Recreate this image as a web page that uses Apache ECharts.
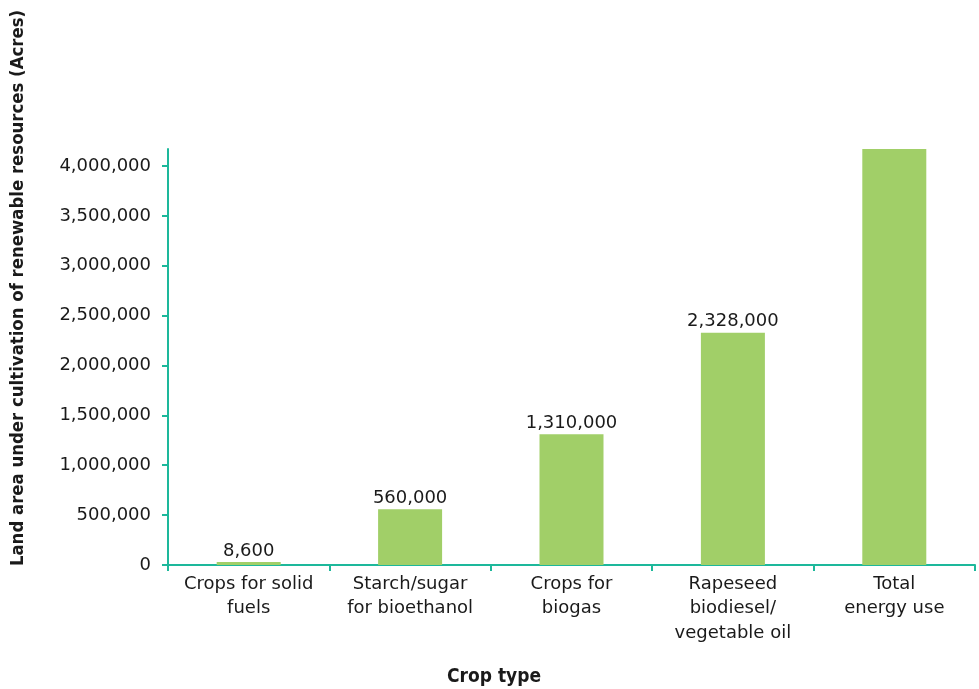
<!DOCTYPE html>
<html>
<head>
<meta charset="utf-8">
<script src="https://cdn.jsdelivr.net/npm/echarts@6/dist/echarts.min.js"></script>
<style>
  html, body { margin: 0; padding: 0; background: #fff; }
  #chart { width: 979px; height: 689px; }
</style>
</head>
<body>
<div id="chart"></div>
<script>
// Land area under cultivation of renewable resources, by crop type
const categories = [
  'Crops for solid\nfuels',
  'Starch/sugar\nfor bioethanol',
  'Crops for\nbiogas',
  'Rapeseed\nbiodiesel/\nvegetable oil',
  'Total\nenergy use'
];
const acres = [8600, 560000, 1310000, 2328000, 4170000];
// Only the crop bars carry a value label
const showValue = [true, true, true, true, false];
const yTicks = [0, 500000, 1000000, 1500000, 2000000, 2500000, 3000000, 3500000, 4000000];

const axisColor = '#1db89b';
const textColor = '#1a1a1a';
const font = '"DejaVu Sans", sans-serif';
const titleFont = '"DejaVu Sans Condensed", "DejaVu Sans", sans-serif';

const fmt = v => v.toLocaleString('en-US');

const chart = echarts.init(document.getElementById('chart'));
chart.setOption({
  animation: false,
  grid: { left: 168, right: 4, top: 149, bottom: 124, containLabel: false, outerBoundsMode: 'none' },
  graphic: [
    {
      type: 'text',
      x: 494, y: 677,
      style: {
        text: 'Crop type', fontFamily: titleFont, fontWeight: 'bold', fontSize: 19,
        fill: textColor, align: 'center', verticalAlign: 'middle'
      }
    },
    {
      type: 'text',
      x: 18, y: 288,
      rotation: Math.PI / 2,
      style: {
        text: 'Land area under cultivation of renewable resources (Acres)',
        fontFamily: titleFont, fontWeight: 'bold', fontSize: 18.4,
        fill: textColor, align: 'center', verticalAlign: 'middle'
      }
    }
  ],
  xAxis: {
    type: 'category',
    data: categories,
    axisLine: { lineStyle: { color: axisColor, width: 2 } },
    axisTick: { show: true, interval: 0, length: 6, lineStyle: { color: axisColor, width: 2 } },
    axisLabel: { interval: 0, hideOverlap: false, fontFamily: font, fontSize: 18, color: textColor, lineHeight: 24.5, margin: 7 }
  },
  yAxis: {
    type: 'value',
    min: 0,
    max: 4170000,
    interval: 500000,
    splitLine: { show: false },
    axisLine: { show: true, lineStyle: { color: axisColor, width: 2 } },
    axisTick: { show: true, length: 6, customValues: yTicks, lineStyle: { color: axisColor, width: 2 } },
    axisLabel: { customValues: yTicks, formatter: v => fmt(v), fontFamily: font, fontSize: 18, color: textColor, margin: 17 }
  },
  series: [{
    type: 'bar',
    barWidth: 64,
    barMinHeight: 3,
    itemStyle: { color: '#a1cf68' },
    data: acres.map((v, i) => ({
      value: v,
      label: {
        show: showValue[i],
        position: 'top',
        distance: 2,
        formatter: p => fmt(p.value),
        fontFamily: font,
        fontSize: 18,
        color: textColor
      }
    }))
  }]
});
</script>
</body>
</html>
